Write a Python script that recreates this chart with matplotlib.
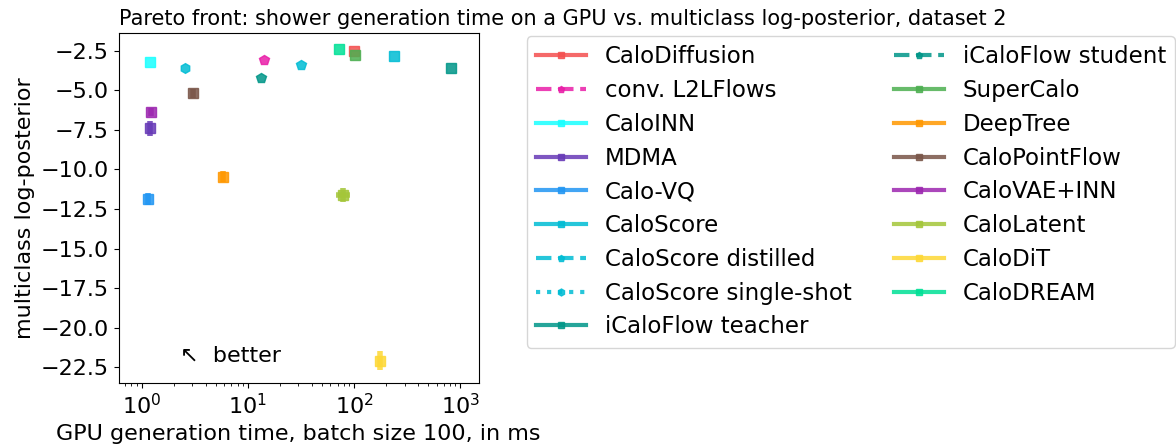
import numpy as np
import matplotlib
matplotlib.use("Agg")
import matplotlib.pyplot as plt
from matplotlib.lines import Line2D
from matplotlib.ticker import MultipleLocator

# models, in legend order
names = ["CaloDiffusion", "conv. L2LFlows", "CaloINN", "MDMA", "Calo-VQ", "CaloScore",
         "CaloScore distilled", "CaloScore single-shot", "iCaloFlow teacher",
         "iCaloFlow student", "SuperCalo", "DeepTree", "CaloPointFlow", "CaloVAE+INN",
         "CaloLatent", "CaloDiT", "CaloDREAM"]
colors = ["#f44f4f", "#e91ea8", "#18ffff", "#673ab7", "#2196f3", "#00bcd4",
          "#00bcd4", "#00bcd4", "#009688", "#009688", "#4caf50", "#ff9800",
          "#795548", "#9c27b0", "#a4c639", "#fdd835", "#00e096"]
markers = ["s", "p", "s", "s", "s", "s", "p", "h", "s", "p", "s", "s", "s", "s", "s", "s", "s"]
styles = ["-", "--", "-", "-", "-", "-", "--", ":", "-", "--", "-", "-", "-", "-", "-", "-", "-"]

# GPU time (ms) and multiclass log-posterior
times = [99, 14.1, 1.2, 1.19, 1.14, 240, 31.7, 2.57, 818, 13.3, 103, 5.86, 3.04, 1.23, 79, 177, 73]
logpost = [-2.5, -3.1, -3.2, -7.41, -11.87, -2.84, -3.39, -3.58, -3.62, -4.25, -2.8,
           -10.47, -5.2, -6.38, -11.63, -22.08, -2.39]
logpost_err = [0, 0, 0, 0.45, 0.35, 0, 0, 0, 0, 0, 0, 0.35, 0.3, 0.25, 0.45, 0.6, 0]
time_err = [0, 0, 0, 0, 0, 0, 0, 0, 0, 0, 0, 0, 0, 0, 12, 0, 0]

fig = plt.figure(figsize=(11.76, 4.46), dpi=100)
ax = fig.add_axes([0.101, 0.141, 0.306, 0.785])

handles = []
for i in range(len(names)):
    xe = time_err[i] if time_err[i] > 0 else None
    ye = logpost_err[i] if logpost_err[i] > 0 else None
    ax.errorbar([times[i]], [logpost[i]], xerr=xe, yerr=ye, color=colors[i],
                marker=markers[i], markersize=7, linestyle="none",
                elinewidth=4, alpha=0.85)
    handles.append(Line2D([], [], color=colors[i], marker=markers[i], markersize=5,
                          linestyle=styles[i], linewidth=3, alpha=0.85, label=names[i]))

ax.set_xscale("log")
ax.set_xlim(0.61, 1490)
ax.set_ylim(-23.5, -1.38)
ax.yaxis.set_major_locator(MultipleLocator(2.5))
ax.text(2.3, -21.8, "↖  better", fontsize=16, ha="left", va="center")
ax.set_xlabel("GPU generation time, batch size 100, in ms", fontsize=16)
ax.set_ylabel("multiclass log-posterior", fontsize=16)
ax.set_title("Pareto front: shower generation time on a GPU vs. multiclass log-posterior, dataset 2",
             fontsize=15, loc="left")
ax.tick_params(labelsize=16)
fig.legend(handles=handles, loc="upper left", bbox_to_anchor=(0.448, 0.919),
           bbox_transform=fig.transFigure, borderaxespad=0, ncol=2, fontsize=16.5,
           handlelength=2.2, labelspacing=0.47, columnspacing=1.85)

fig.savefig("out.png", dpi=100)
